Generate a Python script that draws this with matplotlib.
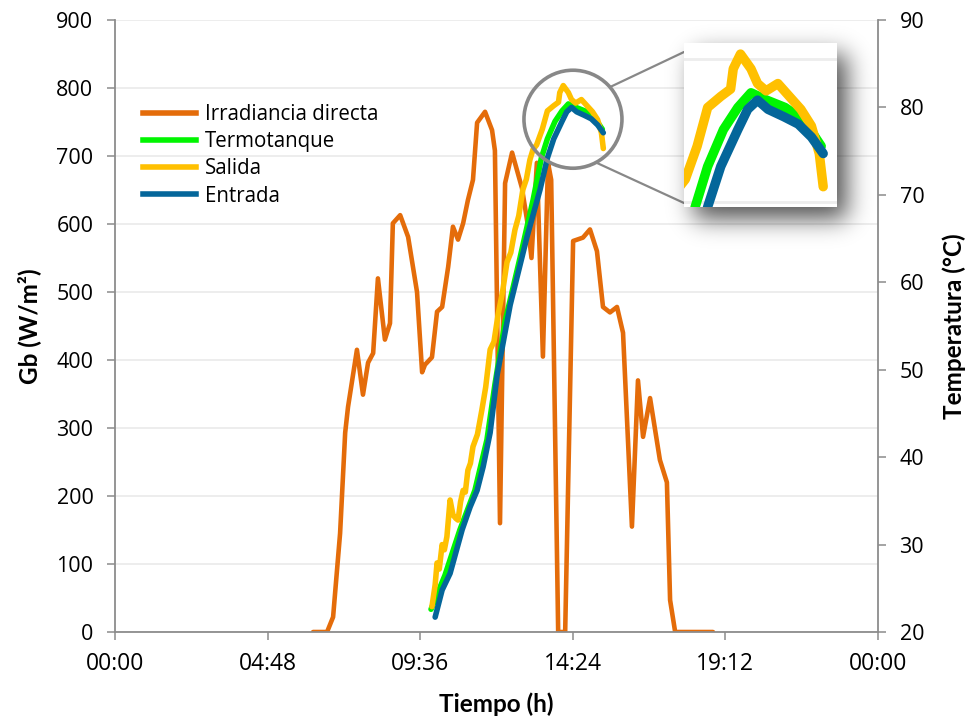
import numpy as np
import matplotlib
matplotlib.use("Agg")
import matplotlib.pyplot as plt
from matplotlib.patches import Ellipse, ConnectionPatch
from matplotlib.lines import Line2D

# ---------------- data ----------------
# Irradiancia directa (hours, W/m2)
irr_t = [6.23, 6.67, 6.86, 7.08, 7.24, 7.33, 7.61, 7.80, 7.96, 8.12, 8.27, 8.49, 8.65,
         8.74, 8.97, 9.22, 9.50, 9.66, 9.75, 9.97, 10.13, 10.29, 10.48, 10.63, 10.79,
         10.95, 11.10, 11.26, 11.39, 11.64, 11.86, 11.95, 12.11, 12.27, 12.49, 12.80,
         12.98, 13.10, 13.27, 13.46, 13.62, 13.72, 13.94, 14.16, 14.41, 14.72, 14.94,
         15.16, 15.35, 15.57, 15.79, 15.98, 16.26, 16.45, 16.61, 16.83, 17.14, 17.36,
         17.46, 17.62, 18.81]
irr_w = [0, 0, 22, 145, 293, 331, 415, 349, 396, 410, 520, 430, 454,
         601, 613, 581, 500, 382, 393, 404, 471, 478, 537, 596, 577,
         601, 635, 665, 749, 765, 738, 708, 160, 660, 705, 653,
         600, 550, 690, 405, 690, 665, 0, 0, 575, 580, 592,
         560, 478, 470, 478, 440, 155, 370, 287, 344, 253, 220,
         47, 0, 0]

# Termotanque (hours, degC)
tank_t = [9.94, 10.38, 10.85, 11.32, 11.70, 11.95, 12.27, 12.74, 13.15, 13.41, 13.60,
          13.84, 14.06, 14.26, 14.50, 14.78, 15.07, 15.33]
tank_T = [22.6, 26.5, 31.7, 36.2, 42.0, 48.3, 55.5, 62.8, 69.4, 74.2, 76.4,
          78.4, 79.6, 80.4, 80.0, 79.6, 78.9, 77.5]

# Salida (hours, degC)
out_t = [9.97, 10.07, 10.13, 10.20, 10.29, 10.36, 10.44, 10.54, 10.63, 10.72, 10.79,
         10.87, 10.95, 11.02, 11.10, 11.18, 11.26, 11.40, 11.54, 11.66, 11.80, 11.92,
         12.05, 12.19, 12.33, 12.45, 12.58, 12.70, 12.83, 12.94, 13.05, 13.15, 13.26,
         13.44, 13.60, 13.80, 13.95, 13.99, 14.10, 14.26, 14.36, 14.49, 14.67, 14.82,
         15.02, 15.18, 15.30, 15.36]
out_T = [22.9, 25.4, 27.9, 27.2, 30.0, 29.4, 30.9, 35.1, 33.4, 33.0, 32.8,
         34.9, 36.2, 36.0, 38.5, 39.3, 41.2, 42.6, 45.4, 48.0, 52.3, 53.2,
         56.3, 58.9, 62.3, 63.4, 66.0, 67.6, 70.6, 71.8, 74.0, 75.2, 75.7,
         77.5, 79.6, 80.2, 80.6, 81.7, 82.5, 81.7, 80.9, 80.5, 80.9, 80.3,
         79.5, 78.6, 77.1, 75.3]

# Entrada (hours, degC)
in_t = [10.07, 10.29, 10.54, 10.92, 11.17, 11.39, 11.58, 11.80, 12.02, 12.43, 12.96,
        13.37, 13.60, 13.80, 14.06, 14.21, 14.36, 14.52, 14.76, 14.98, 15.18, 15.36]
in_T = [21.7, 24.8, 26.7, 31.7, 34.3, 36.2, 38.9, 42.8, 49.4, 57.4, 65.2,
        70.6, 74.2, 76.4, 78.4, 79.5, 80.0, 79.5, 79.1, 78.7, 78.0, 77.1]

x_ticks = [0, 4.8, 9.6, 14.4, 19.2, 24]
x_labels = ["00:00", "04:48", "09:36", "14:24", "19:12", "00:00"]
w_ticks = list(range(0, 1000, 100))
t_ticks = list(range(20, 100, 10))
labels = ["Irradiancia directa", "Termotanque", "Salida", "Entrada"]

# ---------------- style ----------------
C_ORANGE = "#E46C0A"
C_GREEN = "#00F500"
C_YELLOW = "#FFC000"
C_BLUE = "#04669A"
C_AX = "#8C8C8C"
C_GRID = "#EDEDED"
FONT = "Open Sans"

W, H = 969, 721
fig = plt.figure(figsize=(W / 100, H / 100), dpi=100)
fig.patch.set_facecolor("white")

L, R, T_, B = 115, 878, 20, 632
ax = fig.add_axes([L / W, 1 - B / H, (R - L) / W, (B - T_) / H])
ax2 = ax.twinx()

def draw_series(a_w, a_t, lw_scale=1.0):
    kw = dict(solid_capstyle="round", solid_joinstyle="round")
    a_w.plot(irr_t, irr_w, color=C_ORANGE, lw=3.3 * lw_scale, **kw)
    a_t.plot(tank_t, tank_T, color=C_GREEN, lw=4.0 * lw_scale, **kw)
    a_t.plot(out_t, out_T, color=C_YELLOW, lw=4.0 * lw_scale, **kw)
    a_t.plot(in_t, in_T, color=C_BLUE, lw=4.0 * lw_scale, **kw)

draw_series(ax, ax2)

ax.set_xticks(x_ticks)
ax.set_xticklabels(x_labels)
ax.set_yticks(w_ticks)
ax2.set_yticks(t_ticks)
ax.set_xlim(0, 24)
ax.set_ylim(0, 900)
ax2.set_ylim(20, 90)
ax.yaxis.grid(True, color=C_GRID, lw=1.4)
ax.set_axisbelow(True)

for a in (ax, ax2):
    for s in a.spines.values():
        s.set_visible(False)
ax.spines["left"].set_visible(True)
ax.spines["bottom"].set_visible(True)
ax2.spines["right"].set_visible(True)
for s in (ax.spines["left"], ax.spines["bottom"], ax2.spines["right"]):
    s.set_color(C_AX)
    s.set_linewidth(1.3)

ax.tick_params(axis="y", direction="out", length=5.5, width=1.1, color=C_AX, pad=10,
               labelsize=15.5, labelcolor="black")
ax.tick_params(axis="x", direction="out", length=5.5, width=1.1, color=C_AX, pad=9,
               labelsize=16.5, labelcolor="black")
ax2.tick_params(axis="y", direction="out", length=5.5, width=1.1, color=C_AX, pad=10,
                labelsize=15.5, labelcolor="black")
for lab in ax.get_xticklabels() + ax.get_yticklabels() + ax2.get_yticklabels():
    lab.set_fontfamily(FONT)

ax.set_xlabel("Tiempo (h)", fontsize=17.5, fontweight="bold", family="Lato", labelpad=12)
ax.set_ylabel("Gb (W/m²)", fontsize=17.5, fontweight="bold", family="Lato", labelpad=11)
ax2.set_ylabel("Temperatura (°C)", fontsize=17.5, fontweight="bold", family="Lato",
               labelpad=13)

# legend
handles = [Line2D([], [], color=c, lw=4) for c in (C_ORANGE, C_GREEN, C_YELLOW, C_BLUE)]
leg = ax2.legend(handles, labels, loc="upper left",
                 bbox_to_anchor=((143 - L) / (R - L), (B - 104) / (B - T_)),
                 frameon=False, prop={"family": FONT, "size": 14.8},
                 handlelength=2.6, handletextpad=0.4, labelspacing=0.3,
                 borderpad=0, borderaxespad=0)

# ---------------- zoom circle & inset ----------------
x0, x1 = 13.24, 15.57
y0, y1 = 74.2, 83.1
cx, cy = (x0 + x1) / 2, (y0 + y1) / 2
px_per_h = (R - L) / 24.0
px_per_deg = (B - T_) / 70.0
r_px = 49
circ = Ellipse((cx, cy), 2 * r_px / px_per_h, 2 * r_px / px_per_deg, fill=False,
               edgecolor="#888888", lw=2.6, zorder=10)
ax2.add_patch(circ)

IL, IT, IR, IB = 684, 43, 837, 207

# shadow
pad = 45
sx0, sy0 = IL - pad, IT - pad
sw, sh = (IR - IL) + 2 * pad + 20, (IB - IT) + 2 * pad + 20
yy, xx = np.mgrid[0:sh, 0:sw]
rect = ((xx >= pad + 10) & (xx < pad + 10 + (IR - IL)) &
        (yy >= pad + 12) & (yy < pad + 12 + (IB - IT))).astype(float)
sig = 12.0
k = np.arange(-44, 45)
g = np.exp(-0.5 * (k / sig) ** 2)
g /= g.sum()
blur = np.apply_along_axis(lambda r: np.convolve(r, g, mode="same"), 1, rect)
blur = np.apply_along_axis(lambda c: np.convolve(c, g, mode="same"), 0, blur)
rgba = np.zeros((sh, sw, 4))
rgba[..., 3] = blur * 0.68
sax = fig.add_axes([sx0 / W, 1 - (sy0 + sh) / H, sw / W, sh / H], zorder=5)
sax.imshow(rgba, aspect="auto", interpolation="bilinear")
sax.axis("off")

iax_w = fig.add_axes([IL / W, 1 - IB / H, (IR - IL) / W, (IB - IT) / H], zorder=6)
iax_w.set_facecolor("white")
iax_t = iax_w.twinx()
draw_series(iax_w, iax_t, lw_scale=1.7)
iax_w.set_yticks(w_ticks)
iax_w.yaxis.grid(True, color=C_GRID, lw=2.0)
iax_w.set_axisbelow(True)
for a in (iax_w, iax_t):
    a.set_xticks([])
    a.tick_params(left=False, right=False, bottom=False, labelleft=False,
                  labelright=False, labelbottom=False)
    for s in a.spines.values():
        s.set_visible(False)
iax_t.set_yticks([])
iax_w.set_xlim(x0, x1)
iax_w.set_ylim((y0 - 20) * 900 / 70, (y1 - 20) * 900 / 70)
iax_t.set_ylim(y0, y1)

# connector lines (points on the circle -> inset left edge)
def circle_pt(angle_deg):
    a = np.deg2rad(angle_deg)
    return (cx + r_px * np.cos(a) / px_per_h, cy + r_px * np.sin(a) / px_per_deg)

for ang, yfrac in ((41, (IB - 52) / (IB - IT)), (-62, (IB - 203) / (IB - IT))):
    con = ConnectionPatch(xyA=circle_pt(ang), coordsA=ax2.transData,
                          xyB=(0, yfrac), coordsB=iax_w.transAxes,
                          color="#888888", lw=1.6, zorder=4)
    fig.add_artist(con)

fig.savefig("out.png", dpi=100, facecolor="white")
